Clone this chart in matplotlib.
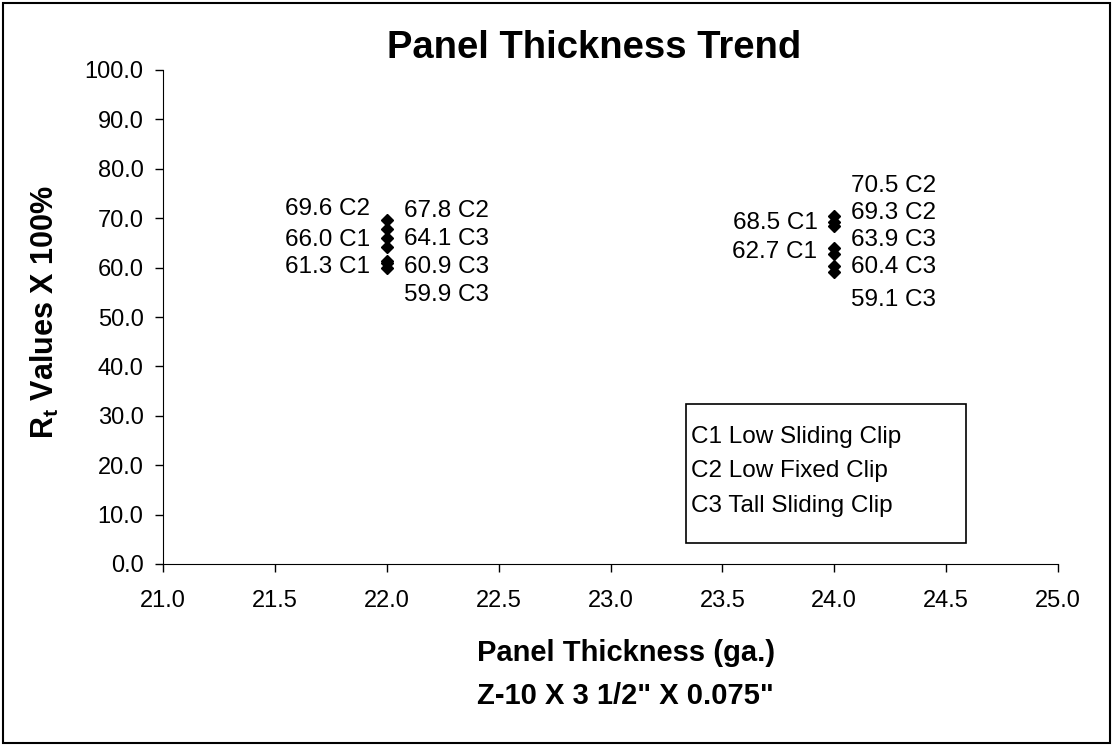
import matplotlib
matplotlib.use('Agg')
import matplotlib.pyplot as plt
from matplotlib.patches import Rectangle
from matplotlib.ticker import FormatStrFormatter, MultipleLocator

plt.rcParams['font.family'] = ['Liberation Sans', 'DejaVu Sans']
plt.rcParams['mathtext.fontset'] = 'custom'
plt.rcParams['mathtext.rm'] = 'Liberation Sans'
plt.rcParams['mathtext.bf'] = 'Liberation Sans:bold'

# Data: panel thickness (ga.) vs Rt values
thick_22 = [22.0] * 7
rt_22 = [69.6, 67.8, 66.0, 64.1, 61.3, 60.9, 59.9]
clip_22 = ['C2', 'C2', 'C1', 'C3', 'C1', 'C3', 'C3']

thick_24 = [24.0] * 7
rt_24 = [70.5, 69.3, 68.5, 63.9, 62.7, 60.4, 59.1]
clip_24 = ['C2', 'C2', 'C1', 'C3', 'C1', 'C3', 'C3']

legend_lines = ['C1 Low Sliding Clip', 'C2 Low Fixed Clip', 'C3 Tall Sliding Clip']

# label placement (side, label y in data units) - layout only
side_22 = ['L', 'R', 'L', 'R', 'L', 'R', 'R']
laby_22 = [71.9, 71.5, 65.6, 65.8, 60.1, 60.1, 54.5]
side_24 = ['R', 'R', 'L', 'R', 'L', 'R', 'R']
laby_24 = [76.5, 71.1, 69.0, 65.6, 63.2, 60.1, 53.4]

fig = plt.figure(figsize=(11.13, 7.46), dpi=100)
ax = fig.add_axes([163 / 1113, 182 / 746, 895 / 1113, 494 / 746])

ax.plot(thick_22, rt_22, linestyle='none', marker='D', markersize=5.8, color='black')
ax.plot(thick_24, rt_24, linestyle='none', marker='D', markersize=5.8, color='black')

for xs, ys, cl, sd, ly in [(thick_22, rt_22, clip_22, side_22, laby_22),
                           (thick_24, rt_24, clip_24, side_24, laby_24)]:
    for x, y, c, s, l in zip(xs, ys, cl, sd, ly):
        txt = f'{y:.1f} {c}'
        if s == 'L':
            ax.text(x - 0.075, l, txt, ha='right', va='center', fontsize=17.5)
        else:
            ax.text(x + 0.075, l, txt, ha='left', va='center', fontsize=17.5)

ax.set_xlim(21.0, 25.0)
ax.set_ylim(0, 100)
ax.xaxis.set_major_locator(MultipleLocator(0.5))
ax.yaxis.set_major_locator(MultipleLocator(10))
ax.xaxis.set_major_formatter(FormatStrFormatter('%.1f'))
ax.yaxis.set_major_formatter(FormatStrFormatter('%.1f'))
ax.tick_params(labelsize=17, length=6, width=1, direction='out')
ax.tick_params(axis='y', pad=8)
ax.tick_params(axis='x', pad=13)
ax.spines['top'].set_visible(False)
ax.spines['right'].set_visible(False)

fig.text(45 / 1113, 1 - 312 / 746, r'$\mathbf{R_t}$ Values X 100%', rotation=90,
         ha='center', va='center', fontsize=22, fontweight='bold')

fig.text(594 / 1113, 1 - 48 / 746, 'Panel Thickness Trend', ha='center', va='center',
         fontsize=27.5, fontweight='bold')
fig.text(477 / 1113, 1 - 653 / 746, 'Panel Thickness (ga.)', ha='left', va='center',
         fontsize=21, fontweight='bold')
fig.text(477 / 1113, 1 - 696 / 746, 'Z-10 X 3 1/2" X 0.075"', ha='left', va='center',
         fontsize=21, fontweight='bold')

# legend box
fig.patches.append(Rectangle((686 / 1113, 1 - 543 / 746), 280 / 1113, 139 / 746,
                             transform=fig.transFigure, fill=False,
                             edgecolor='black', linewidth=1.2))
for i, line in enumerate(legend_lines):
    fig.text(691 / 1113, 1 - (437 + 34.5 * i) / 746, line, ha='left', va='center',
             fontsize=17.5)

# outer chart frame
fig.patches.append(Rectangle((3 / 1113, 1 - 743 / 746), 1107 / 1113, 740 / 746,
                             transform=fig.transFigure, fill=False,
                             edgecolor='black', linewidth=1.5))

fig.savefig('out.png', dpi=100)
